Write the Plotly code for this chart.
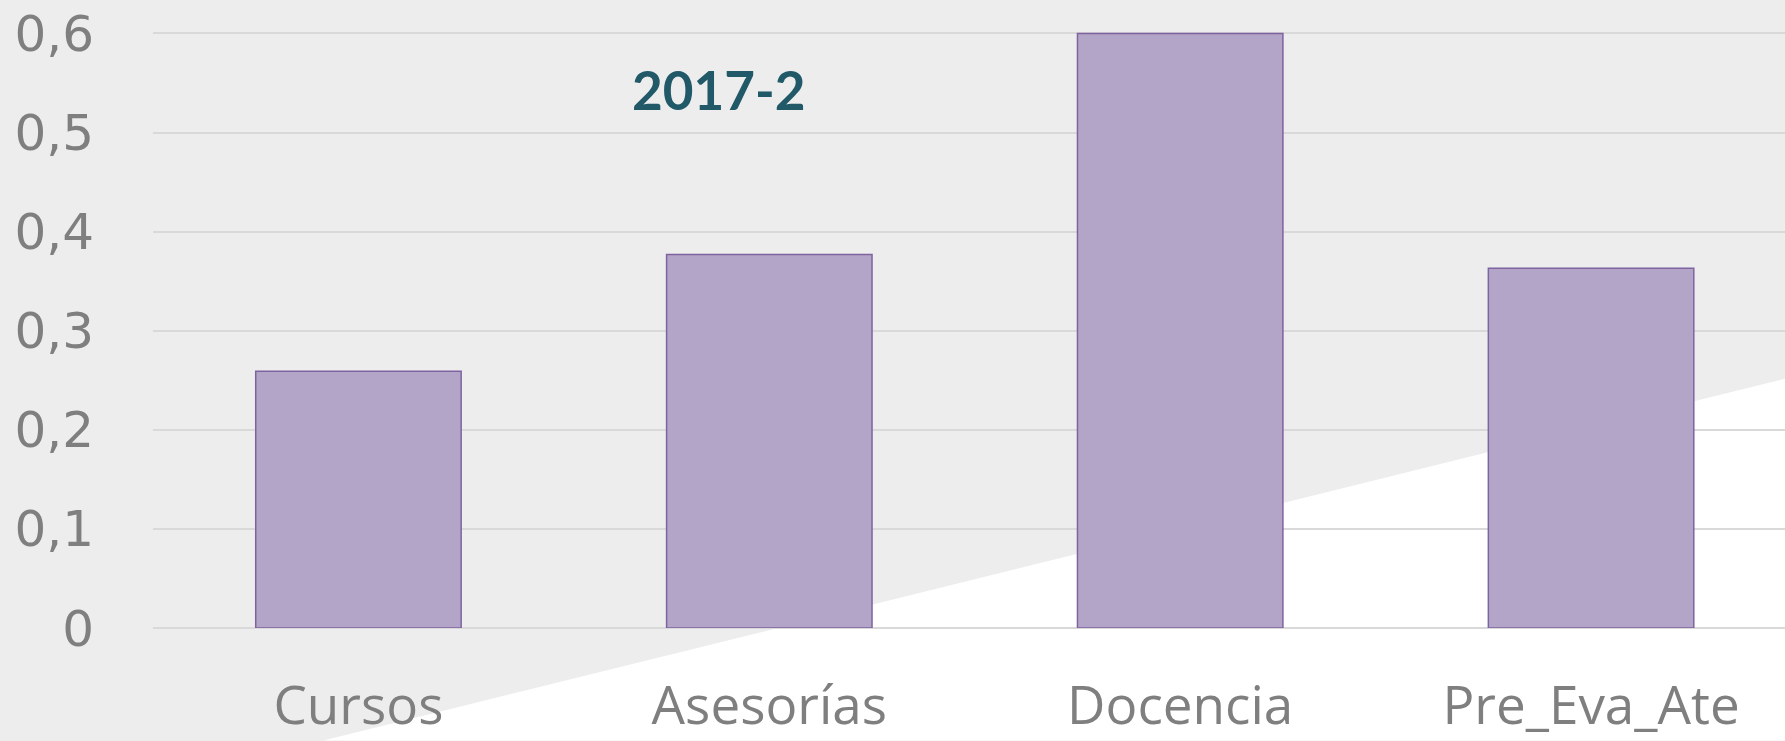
import plotly.graph_objects as go

categories = ["Cursos", "Asesorías", "Docencia", "Pre_Eva_Ate"]
values = [0.259, 0.377, 0.600, 0.363]
tick_vals = [0, 0.1, 0.2, 0.3, 0.4, 0.5, 0.6]
tick_text = ["0", "0,1", "0,2", "0,3", "0,4", "0,5", "0,6"]
title_text = "2017-2"

W, H = 1785, 741
L, T, B = 152.5, 32, 112.6
plot_w = W - L
plot_h = H - T - B
BG = "#ECEDEC"

def px(X):
    return (X - L) / plot_w

def py(Y):
    return (H - B - Y) / plot_h

fig = go.Figure()
fig.add_trace(go.Bar(
    x=categories, y=values, width=0.5,
    marker=dict(color="#B3A5C7", line=dict(color="#7F63A1", width=1.5)),
    hoverinfo="skip",
))

# white background wedge (bottom-right)
x0, y0 = px(323), py(741)
x1, y1 = px(1785), py(379)
x2, y2 = px(1785), py(741)
fig.add_shape(type="path", xref="paper", yref="paper", layer="below",
              path=f"M {x0} {y0} L {x1} {y1} L {x2} {y2} Z",
              fillcolor="white", line=dict(width=0))

fig.add_annotation(text=f"<b>{title_text}</b>", xref="paper", yref="paper",
                   x=px(718), y=py(90), showarrow=False,
                   font=dict(family="Lato", size=53, color="#215968"),
                   xanchor="center", yanchor="middle")

fig.update_layout(
    width=W, height=H,
    margin=dict(l=L, r=0, t=T, b=B, autoexpand=False),
    paper_bgcolor=BG, plot_bgcolor="rgba(0,0,0,0)",
    showlegend=False,
    bargap=0.5,
)
fig.update_xaxes(range=[-0.5, 3.472], showgrid=False, showline=False, zeroline=False,
                 automargin=False,
                 tickfont=dict(family="Open Sans", size=53, color="#7F7F7F"),
                 ticklabelstandoff=42)
fig.update_yaxes(range=[0, 0.6015], tickvals=tick_vals, ticktext=tick_text,
                 showgrid=True, gridcolor="#D9D9D9", gridwidth=1.5,
                 zeroline=True, zerolinecolor="#D9D9D9", zerolinewidth=1.5,
                 showline=False, automargin=False,
                 tickfont=dict(family="DejaVu Sans", size=50, color="#7F7F7F"),
                 ticklabelstandoff=58)

fig.write_html("out.html", config={"displayModeBar": False},
               post_script=("document.body.style.margin='0';document.body.style.padding='0';"
                            "document.body.style.overflow='hidden';"
                            f"document.body.style.background='{BG}';"))
